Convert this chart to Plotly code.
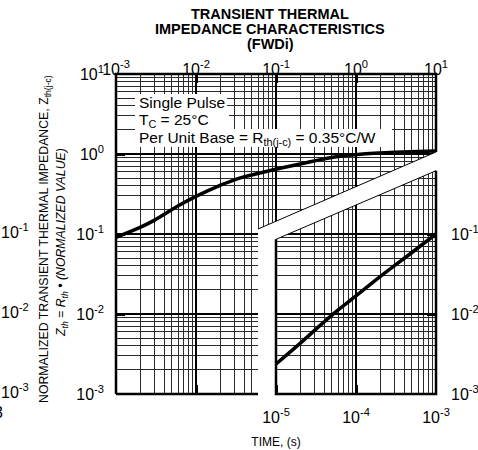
import math
import plotly.graph_objects as go

# ---------------- data ----------------
upper_time = [1e-3, 2e-3, 3e-3, 6e-3, 1e-2, 2e-2, 3.5e-2, 9e-2, 0.2, 0.6, 2.0, 10.0]
upper_z = [0.091, 0.121, 0.148, 0.225, 0.295, 0.405, 0.50, 0.63, 0.75, 0.93, 1.03, 1.09]

lower_time = [1e-5, 2e-5, 5e-5, 1e-4, 2e-4, 5e-4, 1e-3]
lower_z = [0.00237, 0.0043, 0.0097, 0.0168, 0.0293, 0.0587, 0.1]

top_ticks = [1e-3, 1e-2, 1e-1, 1e0, 1e1]
top_labels = ["10<sup>-3</sup>", "10<sup>-2</sup>", "10<sup>-1</sup>", "10<sup>0</sup>", "10<sup>1</sup>"]
bottom_ticks = [1e-7, 1e-6, 1e-5, 1e-4, 1e-3]
bottom_labels = ["", "", "10<sup>-5</sup>", "10<sup>-4</sup>", "10<sup>-3</sup>"]
left_ticks = [1e-3, 1e-2, 1e-1, 1e0, 1e1]
left_labels = ["10<sup>-3</sup>", "10<sup>-2</sup>", "10<sup>-1</sup>", "10<sup>0</sup>", "10<sup>1</sup>"]
right_ticks = [1e-3, 1e-2, 1e-1]
right_labels = ["10<sup>-3</sup>", "10<sup>-2</sup>", "10<sup>-1</sup>"]
outer_vals = [1e-1, 1e-2, 1e-3]
outer_labels = ["10<sup>-1</sup>", "10<sup>-2</sup>", "10<sup>-3</sup>"]

title_lines = ["TRANSIENT THERMAL", "IMPEDANCE CHARACTERISTICS", "(FWDi)"]
note_lines = ["Single Pulse", "T<sub>C</sub> = 25°C",
              "Per Unit Base = R<sub>th(j-c)</sub> = 0.35°C/W"]
ytitle1 = "NORMALIZED TRANSIENT THERMAL IMPEDANCE, Z<sub>th(j-c)</sub>"
ytitle2 = "<i>Z<sub>th</sub> = R<sub>th</sub> • (NORMALIZED VALUE)</i>"
xtitle = "TIME, (s)"

# ---------------- layout geometry ----------------
W, H = 478, 450
L, R, T, B = 116, 42, 74, 56
PW, PH = W - L - R, H - T - B
FONT = "Liberation Sans, Arial, sans-serif"


def fx(px):
    return (px - L) / PW


def fy(py):
    return (H - B - py) / PH


minor_vals = [k * 10 ** d for d in range(-3, 1) for k in range(2, 10)]

fig = go.Figure()
fig.add_trace(go.Scatter(x=upper_time, y=upper_z, mode="lines", xaxis="x", yaxis="y",
                         line=dict(color="black", width=3.5, shape="spline"),
                         showlegend=False, hoverinfo="skip"))
fig.add_trace(go.Scatter(x=lower_time, y=lower_z, mode="lines", xaxis="x2", yaxis="y2",
                         line=dict(color="black", width=3.5, shape="spline"),
                         showlegend=False, hoverinfo="skip"))

tickfont = dict(family=FONT, size=16, color="black")
grid_common = dict(showgrid=True, gridcolor="black", gridwidth=1.5, zeroline=False,
                   showline=False)
tick_common = dict(ticks="inside", ticklen=9, tickwidth=2.5, tickcolor="black",
                   tickfont=tickfont, tickmode="array", automargin=False)

fig.update_layout(
    width=W, height=H, autosize=False,
    margin=dict(l=L, r=R, t=T, b=B, pad=0, autoexpand=False),
    paper_bgcolor="white", plot_bgcolor="white",
    font=dict(family=FONT, color="black"),
    xaxis=dict(type="log", range=[-3, 1], side="top",
               tickvals=top_ticks, ticktext=top_labels, ticklabelstandoff=-5,
               minor=dict(tickmode="array", tickvals=minor_vals, showgrid=True,
                          gridcolor="#2a2a2a", gridwidth=1, ticks=""),
               **grid_common, **tick_common),
    yaxis=dict(type="log", range=[-3, 1],
               tickvals=left_ticks, ticktext=left_labels, ticklabelstandoff=11,
               minor=dict(tickmode="array", tickvals=minor_vals, showgrid=True,
                          gridcolor="#2a2a2a", gridwidth=1, ticks=""),
               **grid_common, **tick_common),
    xaxis2=dict(type="log", range=[-7, -3], overlaying="x", side="bottom", anchor="y2",
                tickvals=bottom_ticks, ticktext=bottom_labels, ticklabelstandoff=12,
                showgrid=False, zeroline=False, showline=False,
                title=dict(text=xtitle, font=dict(family=FONT, size=12), standoff=12),
                **tick_common),
    yaxis2=dict(type="log", range=[-3, 1], overlaying="y", side="right", anchor="x2",
                tickvals=right_ticks, ticktext=right_labels, ticklabelstandoff=14,
                showgrid=False, zeroline=False, showline=False, **tick_common),
)

# ---------------- white break band (L-shaped with diagonal) ----------------
up_x0, up_y0, up_slope = 258.0, 229.0, 0.4326
lo_x0, lo_y0, lo_slope = 276.0, 239.3, 0.4286


def up_y(px):
    return up_y0 - up_slope * (px - up_x0)


def lo_y(px):
    return lo_y0 - lo_slope * (px - lo_x0)


xr = 440.0
band = (f"M {fx(up_x0)},{fy(398)} L {fx(up_x0)},{fy(up_y0)} L {fx(xr)},{fy(up_y(xr))} "
        f"L {fx(xr)},{fy(lo_y(xr))} L {fx(lo_x0)},{fy(lo_y0)} L {fx(lo_x0)},{fy(398)} Z")
shapes = [dict(type="path", path=band, xref="paper", yref="paper", layer="above",
               fillcolor="white", line=dict(width=0))]
shapes.append(dict(type="line", xref="paper", yref="paper", layer="above",
                   x0=fx(up_x0), y0=fy(up_y0), x1=fx(436), y1=fy(up_y(436)),
                   line=dict(color="black", width=1)))
shapes.append(dict(type="line", xref="paper", yref="paper", layer="above",
                   x0=fx(lo_x0), y0=fy(lo_y0), x1=fx(436), y1=fy(lo_y(436)),
                   line=dict(color="black", width=1)))

# white boxes behind the notes
boxes = [(135, 94, 227, 111), (135, 111, 229, 129), (135, 129, 392, 147)]
for (x0, y0, x1, y1) in boxes:
    shapes.append(dict(type="rect", xref="paper", yref="paper", layer="above",
                       x0=fx(x0), x1=fx(x1), y0=fy(y0), y1=fy(y1),
                       fillcolor="white", line=dict(width=0)))

# frames
fw = 2.5
frame_top = (f"M {fx(116)},{fy(394)} L {fx(116)},{fy(74)} L {fx(436)},{fy(74)} "
             f"L {fx(436)},{fy(up_y(436))}")
frame_inset = (f"M {fx(276)},{fy(lo_y0)} L {fx(276)},{fy(394)} L {fx(436)},{fy(394)} "
               f"L {fx(436)},{fy(lo_y(436))}")
for p in (frame_top, frame_inset):
    shapes.append(dict(type="path", path=p, xref="paper", yref="paper", layer="above",
                       fillcolor="rgba(0,0,0,0)", line=dict(color="black", width=fw)))
shapes.append(dict(type="line", xref="paper", yref="paper", layer="above",
                   x0=fx(116), y0=fy(394), x1=fx(258), y1=fy(394),
                   line=dict(color="black", width=fw)))
fig.update_layout(shapes=shapes)

# ---------------- text ----------------
ann = []
for txt, py in zip(title_lines, [13.5, 28.5, 43.5]):
    ann.append(dict(text=f"<b>{txt}</b>", xref="paper", yref="paper", x=fx(270), y=fy(py),
                    xanchor="center", yanchor="middle", showarrow=False,
                    font=dict(family=FONT, size=14.5, color="black")))
for txt, py in zip(note_lines, [102.5, 120, 138]):
    ann.append(dict(text=txt, xref="paper", yref="paper", x=fx(137), y=fy(py),
                    xanchor="left", yanchor="middle", showarrow=False,
                    font=dict(family=FONT, size=15.5, color="black")))
ann.append(dict(text=ytitle1, xref="paper", yref="paper", x=fx(45), y=fy(239),
                xanchor="center", yanchor="middle", textangle=-90, showarrow=False,
                font=dict(family=FONT, size=12.3, color="black")))
ann.append(dict(text=ytitle2, xref="paper", yref="paper", x=fx(62), y=fy(243),
                xanchor="center", yanchor="middle", textangle=-90, showarrow=False,
                font=dict(family=FONT, size=12.3, color="black")))
# clipped labels of the neighbouring chart at the far left
for v, lab in zip(outer_vals, outer_labels):
    ann.append(dict(text=lab, xref="paper", yref="paper", x=fx(31),
                    y=(math.log10(v) + 3) / 4 + 0.008,
                    xanchor="right", yanchor="middle", showarrow=False,
                    font=dict(family=FONT, size=16, color="black")))
ann.append(dict(text="3", xref="paper", yref="paper", x=fx(4.5), y=fy(412),
                xanchor="right", yanchor="middle", showarrow=False,
                font=dict(family=FONT, size=16, color="black")))
fig.update_layout(annotations=ann)

fig.write_html("out.html")
